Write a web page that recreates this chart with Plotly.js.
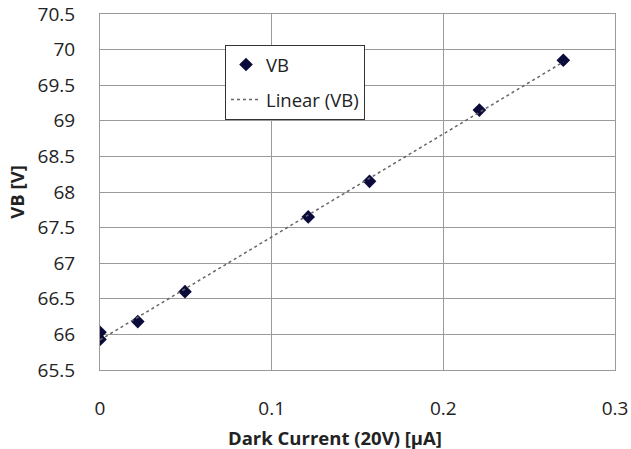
<!DOCTYPE html>
<html>
<head>
<meta charset="utf-8">
<script src="https://cdn.plot.ly/plotly-3.0.1.min.js"></script>
<style>html,body{margin:0;padding:0;background:#fff;}#chart{width:631px;height:449px;}</style>
</head>
<body>
<div id="chart"></div>
<script>
// Data
const darkCurrent = [0, 0, 0.022, 0.0495, 0.1213, 0.157, 0.221, 0.2699];
const vb = [66.03, 65.93, 66.18, 66.60, 67.65, 68.15, 69.15, 69.85];
const xTicks = [0, 0.1, 0.2, 0.3];
const xTickLabels = ['0', '0.1', '0.2', '0.3'];
const yTicks = [65.5, 66, 66.5, 67, 67.5, 68, 68.5, 69, 69.5, 70, 70.5];
const yTickLabels = ['65.5', '66', '66.5', '67', '67.5', '68', '68.5', '69', '69.5', '70', '70.5'];

// Least-squares linear trendline (Excel "Linear (VB)")
const n = darkCurrent.length;
const mx = darkCurrent.reduce((a, b) => a + b, 0) / n;
const my = vb.reduce((a, b) => a + b, 0) / n;
let sxy = 0, sxx = 0;
for (let i = 0; i < n; i++) { sxy += (darkCurrent[i] - mx) * (vb[i] - my); sxx += (darkCurrent[i] - mx) ** 2; }
const slope = sxy / sxx, icpt = my - slope * mx;
const trendX = [Math.min(...darkCurrent), Math.max(...darkCurrent)];
const trendY = trendX.map(x => icpt + slope * x);

const font = 'Open Sans, Liberation Sans, sans-serif';
const tickFont = { family: font, size: 19, color: '#222' };
const traces = [
  { x: darkCurrent, y: vb, type: 'scatter', mode: 'markers', name: 'VB', legendgroup: 'a',
    marker: { symbol: 'diamond', size: 10.5, color: '#0b0b3b' } },
  { x: trendX, y: trendY, type: 'scatter', mode: 'lines', name: 'Linear (VB)', legendgroup: 'b',
    line: { color: '#666', width: 1.5, dash: 'dot' } }
];
const layout = {
  width: 631, height: 449,
  margin: { l: 100, r: 16, t: 14, b: 79 },
  paper_bgcolor: '#fff', plot_bgcolor: '#fff',
  font: { family: font, size: 18, color: '#222' },
  showlegend: true,
  legend: { x: (225 - 100) / 515, y: 1 - (45 - 14) / 356, xanchor: 'left', yanchor: 'top',
    bordercolor: '#333', borderwidth: 1, bgcolor: '#fff', traceorder: 'grouped', tracegroupgap: 8,
    itemwidth: 30, font: { family: font, size: 18.5, color: '#222' } },
  xaxis: { range: [0, 0.3], tickvals: xTicks, ticktext: xTickLabels, showgrid: true, gridcolor: '#9a9a9a', gridwidth: 1,
    zeroline: false, showline: true, linecolor: '#9a9a9a', mirror: true, ticks: '', ticklabelstandoff: 21,
    ticklabeloverflow: 'allow', tickfont: tickFont },
  yaxis: { range: [65.5, 70.5], tickvals: yTicks, ticktext: yTickLabels, showgrid: true, gridcolor: '#9a9a9a', gridwidth: 1,
    zeroline: false, showline: true, linecolor: '#9a9a9a', mirror: true, ticks: '', ticklabelstandoff: 20,
    ticklabeloverflow: 'allow', tickfont: tickFont,
    title: { text: '<b>VB [V]</b>', font: { family: font, size: 18.5, color: '#222' }, standoff: 8 } },
  annotations: [
    { text: '<b>Dark Current (20V) [μA]</b>', xref: 'paper', yref: 'paper', x: (335 - 100) / 515, y: -(437 - 370) / 356,
      xanchor: 'center', yanchor: 'middle', showarrow: false, font: { family: font, size: 18.5, color: '#222' } }
  ]
};
Plotly.newPlot('chart', traces, layout, { displayModeBar: false, staticPlot: true });
</script>
</body>
</html>
